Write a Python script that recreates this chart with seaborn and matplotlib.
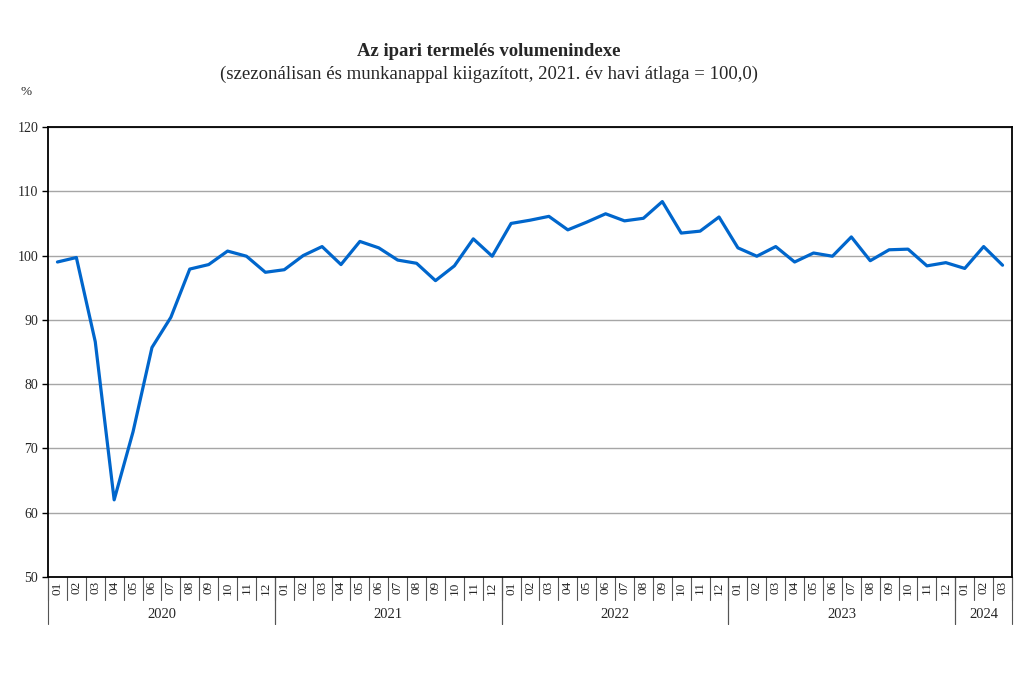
import numpy as np
import pandas as pd
import seaborn as sns
import matplotlib.pyplot as plt
import matplotlib.transforms as mtransforms

years = ["2020", "2021", "2022", "2023", "2024"]
months_per_year = [12, 12, 12, 12, 3]
month_labels = [f"{m:02d}" for n in months_per_year for m in range(1, n + 1)]

index_2020 = [99.0, 99.7, 86.6, 62.0, 72.6, 85.7, 90.4, 97.9, 98.6, 100.7, 99.9, 97.4]
index_2021 = [97.8, 100.0, 101.4, 98.6, 102.2, 101.2, 99.3, 98.8, 96.1, 98.4, 102.6, 99.9]
index_2022 = [105.0, 105.5, 106.1, 104.0, 105.2, 106.5, 105.4, 105.8, 108.4, 103.5, 103.8, 106.0]
index_2023 = [101.2, 99.9, 101.4, 99.0, 100.4, 99.9, 102.9, 99.2, 100.9, 101.0, 98.4, 98.9]
index_2024 = [98.0, 101.4, 98.5]

values = index_2020 + index_2021 + index_2022 + index_2023 + index_2024
df = pd.DataFrame({"pos": np.arange(len(values)), "honap": month_labels, "index": values})

sns.set_theme(style="white")
plt.rcParams['font.family'] = ['Liberation Serif', 'DejaVu Serif']

fig = plt.figure(figsize=(10.24, 6.81), dpi=100)
W, H = 1024, 681
ax_left, ax_right, ax_top, ax_bot = 48, 1012, 127, 577
ax = fig.add_axes([ax_left / W, (H - ax_bot) / H, (ax_right - ax_left) / W, (ax_bot - ax_top) / H])
ax_h = ax_bot - ax_top

sns.lineplot(data=df, x="pos", y="index", ax=ax, color="#0066CC", linewidth=2.3)

ax.set_xlim(-0.5, len(values) - 0.5)
ax.set_ylim(50, 120)
ax.set_yticks(range(50, 121, 10))
ax.yaxis.grid(True, color="#a6a6a6", linewidth=1.0)
ax.set_axisbelow(True)
for s in ax.spines.values():
    s.set_color("black")
    s.set_linewidth(1.3)
ax.tick_params(axis="y", direction="out", length=4, width=1, color="black", labelsize=10, pad=3, left=True)
ax.set_xticks(df["pos"])
ax.set_xticklabels(df["honap"], rotation=90, fontsize=9.5)
ax.tick_params(axis="x", length=0, pad=3)
ax.set_xlabel("")
ax.set_ylabel("")

# separators below the axis
trans = mtransforms.blended_transform_factory(ax.transData, ax.transAxes)
for b in np.arange(-0.5, len(values), 1.0):
    ax.plot([b, b], [0, -23 / ax_h], transform=trans, color="#555555", linewidth=0.8, clip_on=False)
start = 0
for yr, n in zip(years, months_per_year):
    for b in (start - 0.5, start + n - 0.5):
        ax.plot([b, b], [0, -47 / ax_h], transform=trans, color="#555555", linewidth=0.8, clip_on=False)
    ax.text(start + (n - 1) / 2, -38 / ax_h, yr, transform=trans, ha="center", va="center", fontsize=10.5)
    start += n

fig.text(489 / W, 1 - 52 / H, "Az ipari termelés volumenindexe", ha="center", va="center",
         fontsize=13.5, fontweight="bold")
fig.text(489 / W, 1 - 74 / H, "(szezonálisan és munkanappal kiigazított, 2021. év havi átlaga = 100,0)",
         ha="center", va="center", fontsize=13.5)
fig.text(26 / W, 1 - 92 / H, "%", ha="center", va="center", fontsize=9.5)

fig.savefig("out.png", dpi=100, facecolor="white")
